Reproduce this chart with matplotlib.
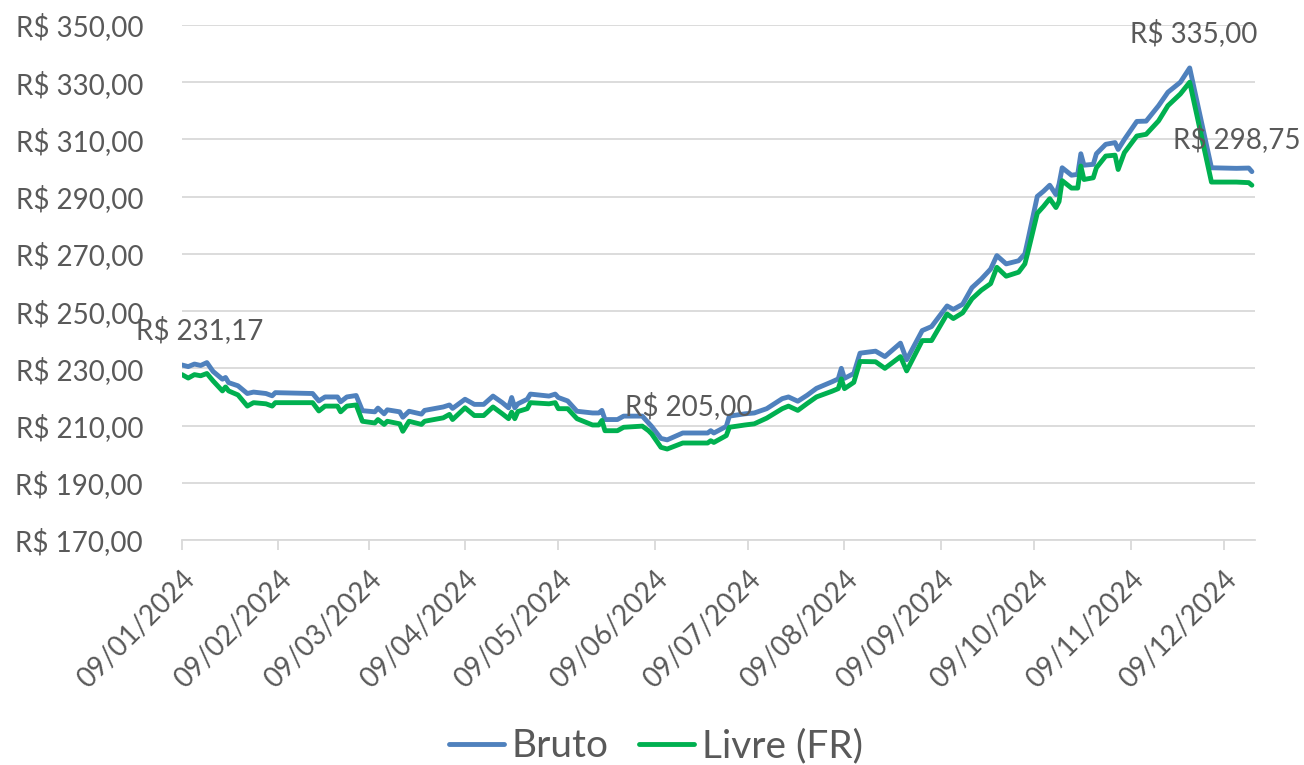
import matplotlib
matplotlib.use("Agg")
import matplotlib.pyplot as plt
import pandas as pd

# ---------------- data ----------------
dates = [
    "2024-01-09", "2024-01-11", "2024-01-13", "2024-01-15", "2024-01-17", "2024-01-19",
    "2024-01-22", "2024-01-23", "2024-01-24", "2024-01-27", "2024-01-30", "2024-02-01",
    "2024-02-05", "2024-02-07", "2024-02-08", "2024-02-20", "2024-02-22", "2024-02-24",
    "2024-02-28", "2024-02-29", "2024-03-02", "2024-03-05", "2024-03-07", "2024-03-11",
    "2024-03-12", "2024-03-14", "2024-03-15", "2024-03-19", "2024-03-20", "2024-03-22",
    "2024-03-26", "2024-03-27", "2024-04-02", "2024-04-04", "2024-04-05", "2024-04-09",
    "2024-04-12", "2024-04-15", "2024-04-18", "2024-04-21", "2024-04-23", "2024-04-24",
    "2024-04-25", "2024-04-26", "2024-04-29", "2024-04-30", "2024-05-06", "2024-05-08",
    "2024-05-09", "2024-05-12", "2024-05-15", "2024-05-20", "2024-05-22", "2024-05-23",
    "2024-05-24", "2024-05-28", "2024-05-30", "2024-06-05", "2024-06-07", "2024-06-08",
    "2024-06-11", "2024-06-13", "2024-06-18", "2024-06-26", "2024-06-27", "2024-06-28",
    "2024-07-02", "2024-07-03", "2024-07-08", "2024-07-11", "2024-07-15", "2024-07-20",
    "2024-07-22", "2024-07-25", "2024-07-28", "2024-07-31", "2024-08-05", "2024-08-07",
    "2024-08-08", "2024-08-09", "2024-08-12", "2024-08-14", "2024-08-19", "2024-08-22",
    "2024-08-27", "2024-08-29", "2024-09-03", "2024-09-06", "2024-09-11", "2024-09-13",
    "2024-09-16", "2024-09-19", "2024-09-22", "2024-09-25", "2024-09-27", "2024-09-30",
    "2024-10-04", "2024-10-06", "2024-10-07", "2024-10-10", "2024-10-12", "2024-10-14",
    "2024-10-16", "2024-10-17", "2024-10-18", "2024-10-21", "2024-10-23", "2024-10-24",
    "2024-10-25", "2024-10-28", "2024-10-29", "2024-11-01", "2024-11-04", "2024-11-05",
    "2024-11-07", "2024-11-11", "2024-11-14", "2024-11-18", "2024-11-21", "2024-11-25",
    "2024-11-28", "2024-12-05", "2024-12-13", "2024-12-17", "2024-12-18",
]

bruto = [
    231.17, 230.6, 231.5, 231.0, 232.0, 228.9,
    226.2, 226.8, 225.0, 223.9, 221.2, 221.7,
    221.2, 220.4, 221.5, 221.2, 218.6, 220.0,
    220.0, 218.3, 220.0, 220.5, 215.2, 214.8,
    216.1, 214.1, 215.5, 214.8, 212.9, 215.0,
    214.0, 215.3, 216.5, 217.2, 216.0, 219.2,
    217.4, 217.4, 220.3, 218.0, 216.2, 219.8,
    216.2, 217.6, 219.2, 221.0, 220.3, 221.0,
    219.8, 218.6, 215.0, 214.4, 214.4, 215.3,
    212.1, 212.1, 213.3, 213.3, 210.9, 209.7,
    205.5, 205.0, 207.4, 207.4, 208.2, 207.4,
    209.7, 213.3, 214.1, 214.4, 215.9, 219.4,
    220.0, 218.5, 220.6, 223.0, 225.3, 226.3,
    230.0, 226.5, 228.2, 235.3, 236.0, 234.1,
    238.8, 233.0, 243.2, 244.6, 251.8, 250.6,
    252.4, 258.2, 261.2, 264.7, 269.4, 266.5,
    267.6, 270.0, 274.9, 290.1, 291.9, 294.0,
    290.7, 294.4, 300.1, 297.5, 297.8, 305.0,
    301.0, 301.3, 305.0, 308.3, 308.9, 306.5,
    310.0, 316.3, 316.4, 321.8, 326.5, 330.0,
    335.0, 300.1, 299.9, 300.0, 298.75,
]

livre = [
    227.8, 226.6, 227.8, 227.4, 228.2, 225.6,
    222.1, 223.5, 222.1, 220.7, 216.8, 218.0,
    217.6, 216.8, 218.0, 218.0, 215.1, 216.8,
    216.8, 214.8, 216.8, 217.2, 211.5, 210.9,
    212.1, 210.4, 211.5, 210.6, 208.0, 211.5,
    210.4, 211.5, 212.7, 213.9, 212.1, 216.2,
    213.5, 213.5, 216.5, 214.1, 212.4, 214.7,
    212.4, 214.9, 215.9, 218.0, 217.6, 218.0,
    215.9, 215.9, 212.4, 210.2, 210.2, 211.8,
    208.2, 208.2, 209.4, 209.8, 208.2, 207.1,
    202.4, 201.8, 203.9, 203.9, 204.7, 204.1,
    206.5, 209.4, 210.2, 210.6, 212.6, 215.9,
    216.8, 215.3, 217.7, 220.0, 222.0, 222.9,
    226.3, 222.9, 225.1, 232.4, 232.3, 230.0,
    234.1, 229.1, 239.7, 239.7, 249.0, 247.4,
    249.4, 254.3, 257.3, 259.6, 265.3, 262.2,
    263.6, 266.5, 270.7, 284.2, 286.6, 289.3,
    286.2, 288.3, 295.6, 293.0, 293.0, 300.7,
    296.0, 296.6, 300.1, 304.2, 304.5, 299.5,
    305.4, 311.2, 311.8, 316.5, 321.8, 325.9,
    330.0, 295.1, 295.1, 294.9, 294.0,
]

series_names = ["Bruto", "Livre (FR)"]
x_tick_labels = ["09/01/2024", "09/02/2024", "09/03/2024", "09/04/2024", "09/05/2024",
                 "09/06/2024", "09/07/2024", "09/08/2024", "09/09/2024", "09/10/2024",
                 "09/11/2024", "09/12/2024"]
y_ticks = [170, 190, 210, 230, 250, 270, 290, 310, 330, 350]


def brl(v):
    return "R$ " + f"{v:,.2f}".replace(",", "X").replace(".", ",").replace("X", ".")


# ---------------- figure ----------------
FONT = ["Lato", "DejaVu Sans"]
plt.rcParams["font.family"] = FONT
TXT = "#595959"
BLUE = "#4F81BD"
GREEN = "#00B050"

x = pd.to_datetime(dates)
tick_pos = pd.to_datetime(x_tick_labels, format="%d/%m/%Y")

fig = plt.figure(figsize=(13.04, 7.65), dpi=100)
ax = fig.add_axes([182 / 1304, 1 - 540 / 765, (1255 - 182) / 1304, (540 - 25) / 765])

l1, = ax.plot(x, bruto, color=BLUE, lw=3.5, solid_joinstyle="round", solid_capstyle="round",
              label=series_names[0], zorder=3)
l2, = ax.plot(x, livre, color=GREEN, lw=3.5, solid_joinstyle="round", solid_capstyle="round",
              label=series_names[1], zorder=3)

ax.set_ylim(170, 350)
ax.set_xlim(pd.Timestamp("2024-01-09"), pd.Timestamp("2024-12-19"))
ax.set_yticks(y_ticks)
ax.set_yticklabels([brl(v) for v in y_ticks])
ax.set_xticks(tick_pos)
ax.set_xticklabels(x_tick_labels, rotation=45, ha="right", rotation_mode="anchor")

ax.grid(axis="y", color="#D9D9D9", lw=1.3, zorder=0)
ax.grid(axis="x", visible=False)
for s in ["top", "right", "left"]:
    ax.spines[s].set_visible(False)
ax.spines["bottom"].set_color("#D9D9D9")
ax.spines["bottom"].set_linewidth(1.3)
ax.tick_params(axis="y", length=0, pad=28, labelsize=20, labelcolor=TXT)
ax.tick_params(axis="x", length=7, width=1.3, color="#D9D9D9", pad=12, labelsize=20,
               labelcolor=TXT)

# data labels
i_min = bruto.index(min(bruto))
i_max = bruto.index(max(bruto))
label_specs = [
    (0, 18, 35),
    (i_min, 22, 34),
    (i_max, 4, 35),
    (len(bruto) - 1, -15, 33),
]
for i, dx, dy in label_specs:
    ax.annotate(brl(bruto[i]), (x[i], bruto[i]), xytext=(dx, dy), textcoords="offset pixels",
                ha="center", va="center", fontsize=20, color=TXT, zorder=5,
                annotation_clip=False)

leg = fig.legend(handles=[l1, l2], loc="lower center", bbox_to_anchor=(0.503, -0.045),
                 ncol=2, frameon=False, fontsize=28, handlelength=1.4, handletextpad=0.2,
                 columnspacing=0.8)
for t in leg.get_texts():
    t.set_color(TXT)

fig.savefig("out.png", dpi=100)
